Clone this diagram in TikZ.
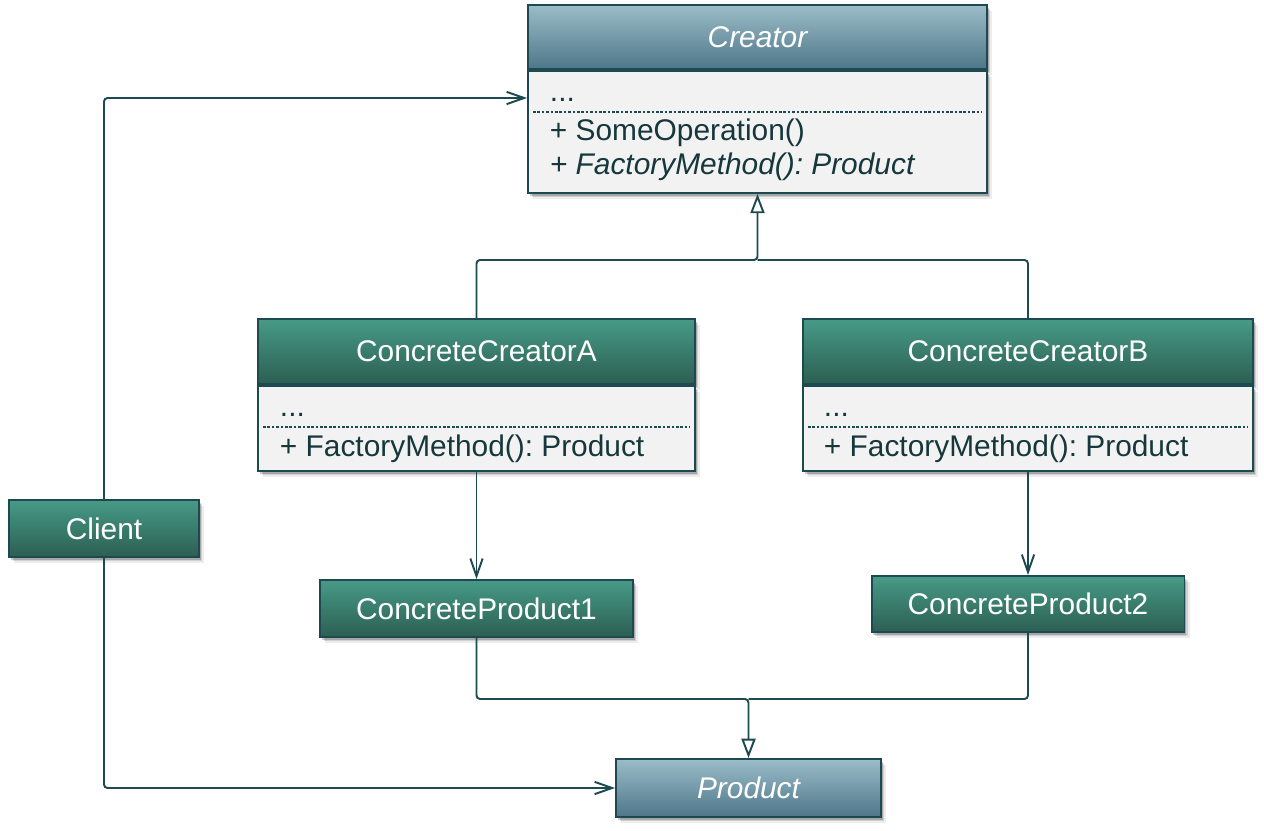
\documentclass[tikz,border=0pt]{standalone}
\usepackage{fontspec}
\setmainfont{Liberation Sans}
\usetikzlibrary{arrows.meta,shadows}
\frenchspacing

\definecolor{linecol}{RGB}{29,74,80}
\definecolor{textcol}{RGB}{22,56,60}
\definecolor{bodyfill}{RGB}{242,242,242}
\definecolor{bluetop}{RGB}{155,188,200}
\definecolor{bluebot}{RGB}{78,119,137}
\definecolor{greentop}{RGB}{71,154,135}
\definecolor{greenbot}{RGB}{44,95,82}

\begin{document}
\begin{tikzpicture}[
	x=0.02cm,
	y=-0.02cm,
	font=\fontsize{17}{20}\selectfont,
	line width=1.1pt,
	boxshadow/.style={
		drop shadow={shadow xshift=3pt, shadow yshift=-3.5pt, fill=black, opacity=0.07},
		drop shadow={shadow xshift=2pt, shadow yshift=-2.5pt, fill=black, opacity=0.12},
		drop shadow={shadow xshift=1pt, shadow yshift=-1.5pt, fill=black, opacity=0.2}
	},
	header/.style={
		rectangle,
		draw=linecol,
		inner sep=0pt,
		text=white,
		top color=greentop,
		bottom color=greenbot,
		boxshadow
	},
	abstract/.style={
		header,
		top color=bluetop,
		bottom color=bluebot,
		font=\fontsize{17}{20}\selectfont\itshape
	},
	body/.style={
		rectangle,
		draw=linecol,
		fill=bodyfill,
		inner sep=0pt,
		anchor=north,
		boxshadow
	},
	member/.style={
		anchor=base west,
		inner sep=0pt,
		text=textcol
	},
	sep/.style={
		draw=linecol,
		line width=0.6pt,
		dash pattern=on 1.5pt off 1pt
	},
	link/.style={
		draw=linecol,
		rounded corners=2pt
	},
	assoc/.style={
		link,
		-{Straight Barb[length=10pt,width=7pt]}
	},
	inherit/.style={
		link,
		-{Triangle[open,length=11pt,width=8pt]}
	}]

	\useasboundingbox[fill=white] (0,0) rectangle (1264,831);

	% classes
	\node[abstract, minimum width=9.18cm, minimum height=1.28cm] (creator) at (757.5,37) {Creator};
	\node[body, minimum width=9.18cm, minimum height=2.44cm] (creator_body) at (creator.south) {};
	\node[member] (creator_attr) at (549,102) {...};
	\draw[sep] (533,112) -- (982,112);
	\node[member] (creator_op) at (549,141) {+ SomeOperation()};
	\node[member] (creator_fm) at (549,175) {\itshape + FactoryMethod(): Product};

	\node[header, minimum width=8.74cm, minimum height=1.3cm] (cc_a) at (476.5,351.5) {ConcreteCreatorA};
	\node[body, minimum width=8.74cm, minimum height=1.7cm] (cc_a_body) at (cc_a.south) {};
	\node[member] (cc_a_attr) at (279,416) {...};
	\draw[sep] (263,427) -- (690,427);
	\node[member] (cc_a_fm) at (279,456) {+ FactoryMethod(): Product};

	\node[header, minimum width=9cm, minimum height=1.3cm] (cc_b) at (1028,351.5) {ConcreteCreatorB};
	\node[body, minimum width=9cm, minimum height=1.7cm] (cc_b_body) at (cc_b.south) {};
	\node[member] (cc_b_attr) at (823,416) {...};
	\draw[sep] (808,427) -- (1248,427);
	\node[member] (cc_b_fm) at (823,456) {+ FactoryMethod(): Product};

	\node[header, minimum width=3.8cm, minimum height=1.14cm] (client) at (104,528.5) {Client};
	\node[header, minimum width=6.26cm, minimum height=1.14cm] (cp_1) at (476.5,608.5) {ConcreteProduct1};
	\node[header, minimum width=6.26cm, minimum height=1.12cm] (cp_2) at (1028,604) {ConcreteProduct2};
	\node[abstract, minimum width=5.3cm, minimum height=1.16cm] (product) at (748.5,788) {Product};

	% connectors
	\coordinate (join_top) at (757.5,260);
	\coordinate (join_bot) at (748.5,699);

	\draw[assoc] (client.north) |- (creator_body.west |- 0,98);
	\draw[assoc] (client.south) |- (product.west);

	\draw[inherit] (cc_a.north) |- (join_top) -- (creator_body.south);
	\draw[link] (cc_b.north) |- (join_top);

	\draw[assoc] (cc_a_body.south) -- (cp_1.north);
	\draw[assoc] (cc_b_body.south) -- (cp_2.north);

	\draw[inherit] (cp_1.south) |- (join_bot) -- (product.north);
	\draw[link] (cp_2.south) |- (join_bot);
\end{tikzpicture}
\end{document}
